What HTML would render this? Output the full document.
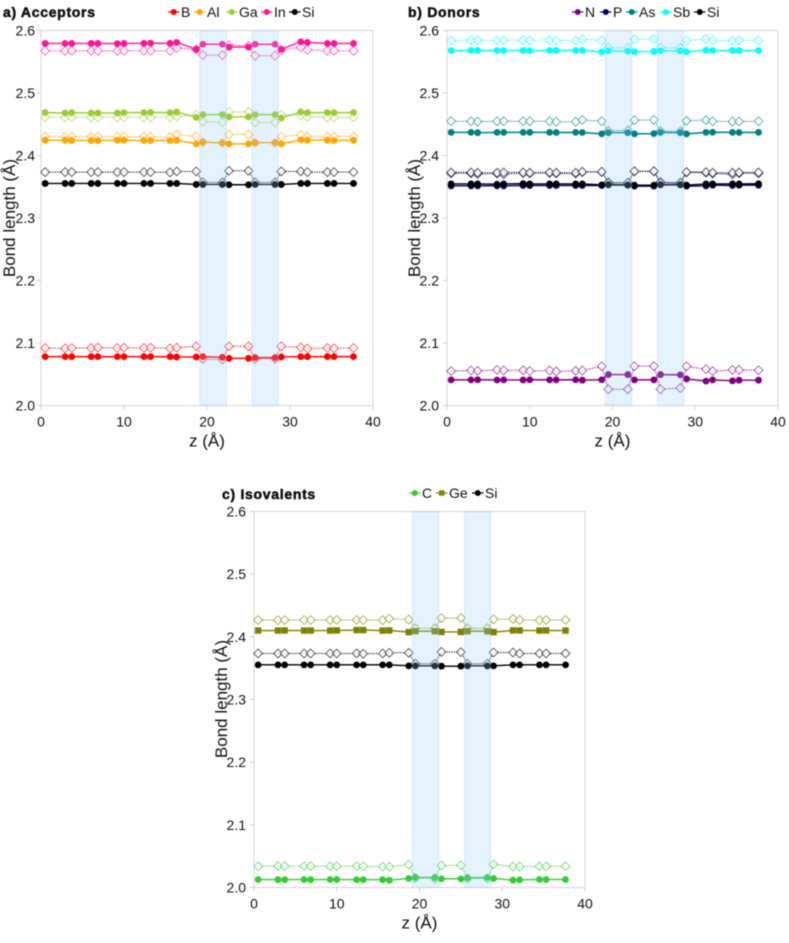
<!DOCTYPE html>
<html>
<head>
<meta charset="utf-8">
<title>Bond length profiles</title>
<style>
html,body{margin:0;padding:0;background:#fff;width:789px;height:943px;overflow:hidden}
svg{display:block;filter:blur(0.45px)}
text{font-family:"Liberation Sans",sans-serif;fill:#111}
</style>
</head>
<body>
<svg id="chart" width="789" height="943" viewBox="0 0 789 943" xmlns="http://www.w3.org/2000/svg"></svg>
<script>
const zValues = [0.5,2.9,3.7,6.05,6.85,9.2,10.0,12.4,13.2,15.55,16.35,18.7,19.5,21.85,22.65,25.0,25.8,28.2,28.95,31.3,32.1,34.5,35.3,37.65];
const xTickLabels = [0,10,20,30,40];
const yTickLabels = [2.0,2.1,2.2,2.3,2.4,2.5,2.6];
const bandRanges = [[19.13,22.34],[25.43,28.6]];

const siSolid = [2.3553,2.3553,2.3553,2.3553,2.3553,2.3553,2.3553,2.3553,2.3553,2.3553,2.3553,2.3537,2.3537,2.3537,2.3532,2.3532,2.3537,2.3537,2.3537,2.3553,2.3553,2.3553,2.3553,2.3553];
const siOpen = [2.3734,2.3734,2.3734,2.3734,2.3734,2.3734,2.3734,2.3734,2.3734,2.3730,2.3745,2.3745,2.3570,2.3570,2.3755,2.3755,2.3570,2.3570,2.3745,2.3745,2.3734,2.3734,2.3734,2.3734];

const bSolid = [2.0782,2.0782,2.0782,2.0782,2.0782,2.0782,2.0782,2.0782,2.0782,2.0782,2.0777,2.0777,2.0782,2.0771,2.0755,2.0755,2.0766,2.0766,2.0777,2.0782,2.0782,2.0782,2.0782,2.0782];
const bOpen = [2.0920,2.0915,2.0920,2.0920,2.0925,2.0920,2.0925,2.0920,2.0925,2.0915,2.0925,2.0947,2.0745,2.0734,2.0947,2.0947,2.0745,2.0750,2.0947,2.0930,2.0910,2.0920,2.0915,2.0920];
const alSolid = [2.4245,2.4245,2.4240,2.4240,2.4240,2.4245,2.4245,2.4240,2.4240,2.4240,2.4245,2.4186,2.4213,2.4202,2.4186,2.4186,2.4207,2.4207,2.4186,2.4250,2.4245,2.4245,2.4240,2.4245];
const alOpen = [2.4303,2.4303,2.4303,2.4303,2.4303,2.4303,2.4303,2.4303,2.4303,2.4295,2.4335,2.4308,2.4213,2.4202,2.4335,2.4335,2.4202,2.4202,2.4303,2.4330,2.4310,2.4303,2.4303,2.4303];
const gaSolid = [2.4686,2.4680,2.4686,2.4680,2.4680,2.4680,2.4686,2.4686,2.4690,2.4686,2.4697,2.4610,2.4654,2.4654,2.4617,2.4617,2.4654,2.4654,2.4600,2.4697,2.4686,2.4686,2.4686,2.4686];
const gaOpen = [2.4610,2.4610,2.4610,2.4610,2.4610,2.4610,2.4610,2.4610,2.4610,2.4610,2.4625,2.4650,2.4540,2.4530,2.4697,2.4697,2.4527,2.4530,2.4655,2.4640,2.4617,2.4610,2.4610,2.4610];
const inSolid = [2.5793,2.5793,2.5793,2.5793,2.5793,2.5790,2.5793,2.5795,2.5798,2.5795,2.5810,2.5700,2.5780,2.5780,2.5735,2.5735,2.5780,2.5780,2.5700,2.5820,2.5810,2.5793,2.5793,2.5793];
const inOpen = [2.5676,2.5676,2.5676,2.5676,2.5676,2.5672,2.5676,2.5676,2.5676,2.5676,2.5720,2.5697,2.5606,2.5606,2.5766,2.5755,2.5596,2.5596,2.5686,2.5730,2.5690,2.5676,2.5676,2.5676];

const nSolid = [2.0410,2.0410,2.0412,2.0408,2.0410,2.0408,2.0412,2.0410,2.0410,2.0412,2.0405,2.0412,2.0495,2.0495,2.0410,2.0410,2.0495,2.0490,2.0425,2.0390,2.0410,2.0395,2.0405,2.0405];
const nOpen = [2.0550,2.0560,2.0555,2.0570,2.0560,2.0565,2.0550,2.0560,2.0545,2.0555,2.0560,2.0627,2.0260,2.0260,2.0630,2.0630,2.0260,2.0280,2.0627,2.0580,2.0550,2.0570,2.0570,2.0565];
const pSolid = [2.3515,2.3515,2.3515,2.3515,2.3515,2.3520,2.3520,2.3520,2.3520,2.3520,2.3520,2.3520,2.3530,2.3525,2.3510,2.3510,2.3530,2.3530,2.3510,2.3515,2.3525,2.3520,2.3525,2.3525];
const pOpen = [2.3715,2.3715,2.3705,2.3710,2.3700,2.3720,2.3715,2.3720,2.3715,2.3710,2.3735,2.3735,2.3570,2.3560,2.3745,2.3745,2.3575,2.3560,2.3730,2.3725,2.3710,2.3700,2.3715,2.3715];
const asSolid = [2.4370,2.4370,2.4365,2.4370,2.4370,2.4370,2.4370,2.4370,2.4368,2.4370,2.4368,2.4346,2.4365,2.4365,2.4346,2.4350,2.4370,2.4365,2.4346,2.4370,2.4372,2.4370,2.4368,2.4370];
const asOpen = [2.4548,2.4548,2.4542,2.4548,2.4548,2.4548,2.4548,2.4548,2.4540,2.4540,2.4570,2.4548,2.4394,2.4400,2.4565,2.4570,2.4390,2.4385,2.4555,2.4565,2.4548,2.4545,2.4545,2.4548];
const sbSolid = [2.5680,2.5682,2.5682,2.5680,2.5680,2.5682,2.5678,2.5682,2.5682,2.5682,2.5682,2.5660,2.5675,2.5670,2.5660,2.5665,2.5675,2.5675,2.5660,2.5685,2.5680,2.5682,2.5680,2.5680];
const sbOpen = [2.5840,2.5845,2.5845,2.5840,2.5842,2.5845,2.5842,2.5845,2.5842,2.5840,2.5860,2.5840,2.5723,2.5723,2.5860,2.5865,2.5723,2.5723,2.5840,2.5865,2.5840,2.5840,2.5842,2.5842];
const siSolidB = [2.3545,2.3545,2.3545,2.3540,2.3545,2.3550,2.3545,2.3545,2.3545,2.3545,2.3545,2.3530,2.3535,2.3530,2.3525,2.3525,2.3535,2.3535,2.3525,2.3545,2.3545,2.3545,2.3545,2.3548];
const siOpenB = [2.3730,2.3730,2.3725,2.3725,2.3730,2.3730,2.3725,2.3730,2.3725,2.3725,2.3740,2.3740,2.3565,2.3565,2.3750,2.3750,2.3565,2.3565,2.3735,2.3735,2.3725,2.3725,2.3730,2.3730];

const cSolid = [2.0128,2.0125,2.0125,2.0128,2.0125,2.0128,2.0128,2.0125,2.0125,2.0125,2.0117,2.0144,2.0160,2.0160,2.0138,2.0138,2.0155,2.0160,2.0144,2.0117,2.0122,2.0128,2.0128,2.0128];
const cOpen = [2.0340,2.0342,2.0340,2.0340,2.0340,2.0338,2.0340,2.0340,2.0338,2.0332,2.0332,2.0367,2.0154,2.0144,2.0350,2.0355,2.0144,2.0144,2.0370,2.0335,2.0335,2.0338,2.0340,2.0340];
const geSolid = [2.4100,2.4100,2.4102,2.4100,2.4100,2.4100,2.4102,2.4108,2.4108,2.4100,2.4102,2.4075,2.4090,2.4090,2.4078,2.4078,2.4090,2.4090,2.4075,2.4102,2.4102,2.4100,2.4102,2.4100];
const geOpen = [2.4270,2.4265,2.4268,2.4268,2.4268,2.4268,2.4270,2.4270,2.4268,2.4265,2.4290,2.4275,2.4135,2.4135,2.4300,2.4300,2.4135,2.4135,2.4280,2.4285,2.4270,2.4265,2.4268,2.4270];
const siSolidC = [2.3553,2.3553,2.3553,2.3553,2.3553,2.3553,2.3553,2.3553,2.3553,2.3553,2.3553,2.3537,2.3537,2.3537,2.3532,2.3532,2.3537,2.3537,2.3537,2.3553,2.3553,2.3553,2.3553,2.3553];
const siOpenC = [2.3735,2.3735,2.3735,2.3735,2.3735,2.3735,2.3735,2.3735,2.3730,2.3735,2.3745,2.3745,2.3570,2.3570,2.3760,2.3755,2.3570,2.3570,2.3750,2.3750,2.3735,2.3735,2.3735,2.3735];

const panelA = [
  {name:'b',label:'B',color:'#ff0000',solid:bSolid,open:bOpen,lx:168},
  {name:'al',label:'Al',color:'#ffa500',solid:alSolid,open:alOpen,lx:194},
  {name:'ga',label:'Ga',color:'#9acd32',solid:gaSolid,open:gaOpen,lx:226},
  {name:'in',label:'In',color:'#ff1493',solid:inSolid,open:inOpen,lx:261},
  {name:'si',label:'Si',color:'#000000',solid:siSolid,open:siOpen,lx:289}
];
const panelB = [
  {name:'n',label:'N',color:'#800080',solid:nSolid,open:nOpen,lx:572},
  {name:'p',label:'P',color:'#000080',solid:pSolid,open:pOpen,lx:600},
  {name:'as',label:'As',color:'#008080',solid:asSolid,open:asOpen,lx:626},
  {name:'sb',label:'Sb',color:'#00ffff',solid:sbSolid,open:sbOpen,lx:660},
  {name:'si',label:'Si',color:'#000000',solid:siSolidB,open:siOpenB,lx:694}
];
const panelC = [
  {name:'c',label:'C',color:'#32cd32',solid:cSolid,open:cOpen,lx:409},
  {name:'ge',label:'Ge',color:'#808000',solid:geSolid,open:geOpen,lx:436,square:true},
  {name:'si',label:'Si',color:'#000000',solid:siSolidC,open:siOpenC,lx:472}
];

const NS = 'http://www.w3.org/2000/svg';
const root = document.getElementById('chart');

function make(parent, tag, attrs, text) {
  const el = document.createElementNS(NS, tag);
  for (const k in attrs) el.setAttribute(k, attrs[k]);
  if (text !== undefined) el.textContent = text;
  parent.appendChild(el);
  return el;
}

function drawMarks(g, s, xScale, yScale) {
  const solidPts = s.solid.map((v, i) => xScale(zValues[i]).toFixed(2) + ',' + yScale(v).toFixed(2)).join(' ');
  const openPts = s.open.map((v, i) => xScale(zValues[i]).toFixed(2) + ',' + yScale(v).toFixed(2)).join(' ');

  const openLine = make(g, 'polyline', {points:openPts, fill:'none', stroke:s.color, 'stroke-width':1, 'stroke-dasharray':'1.2 1.2'});
  
  

  s.open.forEach((v, i) => {
    const x = xScale(zValues[i]), y = yScale(v), r = 4.4;
    const d = make(g, 'polygon', {
      points: x + ',' + (y - r) + ' ' + (x + r) + ',' + y + ' ' + x + ',' + (y + r) + ' ' + (x - r) + ',' + y,
      fill:'rgba(255,255,255,0.8)', stroke:s.color, 'stroke-width':0.8, 'stroke-opacity':0.75
    });
    
    
  });

  const solidLine = make(g, 'polyline', {points:solidPts, fill:'none', stroke:s.color, 'stroke-width':1.4});
  
  

  s.solid.forEach((v, i) => {
    const x = xScale(zValues[i]), y = yScale(v);
    let m;
    if (s.square) {
      m = make(g, 'rect', {x:x - 3.2, y:y - 3.2, width:6.4, height:6.4, fill:s.color});
    } else {
      m = make(g, 'circle', {cx:x, cy:y, r:3.4, fill:s.color});
    }
    
    
  });
}

function drawPanel(cfg) {
  const g = make(root, 'g', {});
  
  

  const xScale = z => cfg.left + (z / 40) * (cfg.right - cfg.left);
  const yScale = v => cfg.bottom - ((v - 2.0) / 0.6) * (cfg.bottom - cfg.top);

  const frame = make(g, 'rect', {x:cfg.left, y:cfg.top, width:cfg.right - cfg.left, height:cfg.bottom - cfg.top, fill:'#fff', stroke:'#d6d6d6', 'stroke-width':1});
  
  

  yTickLabels.forEach(t => {
    const y = yScale(t);
    const tick = make(g, 'line', {x1:cfg.left - 4, x2:cfg.left, y1:y, y2:y, stroke:'#cfcfcf', 'stroke-width':1});
    
    
    const lab = make(g, 'text', {x:cfg.left - cfg.labelGap, y:y + 5, 'text-anchor':'end', 'font-size':14}, t.toFixed(1));
    
    
  });

  xTickLabels.forEach(t => {
    const x = xScale(t);
    const tick = make(g, 'line', {x1:x, x2:x, y1:cfg.bottom, y2:cfg.bottom + 4, stroke:'#cfcfcf', 'stroke-width':1});
    
    
    const lab = make(g, 'text', {x:x, y:cfg.bottom + 21, 'text-anchor':'middle', 'font-size':14}, String(t));
    
    
  });

  cfg.series.forEach(s => drawMarks(g, s, xScale, yScale));

  bandRanges.forEach(b => {
    const band = make(g, 'rect', {
      x:xScale(b[0]), y:cfg.top, width:xScale(b[1]) - xScale(b[0]), height:cfg.bottom - cfg.top,
      fill:'rgb(144,202,249)', 'fill-opacity':0.25, stroke:'rgb(150,190,240)', 'stroke-opacity':0.25, 'stroke-width':1
    });
    
    
  });

  const xTitle = make(g, 'text', {x:(cfg.left + cfg.right) / 2, y:cfg.bottom + 41, 'text-anchor':'middle', 'font-size':17}, 'z (Å)');
  
  

  const yTitle = make(g, 'text', {
    x:cfg.yTitleX, y:cfg.yTitleY, 'text-anchor':'middle', 'font-size':17,
    transform:'rotate(-90 ' + cfg.yTitleX + ' ' + cfg.yTitleY + ')'
  }, 'Bond length (Å)');
  
  

  const title = make(g, 'text', {
    x:cfg.titleX, y:cfg.titleY, 'font-size':14, 'font-weight':'bold',
    stroke:'#000', 'stroke-width':0.45, 'letter-spacing':0.7
  }, cfg.title);
  
  

  cfg.series.forEach(s => {
    const y = cfg.legendY;
    const entry = make(g, 'g', {});
    
    
    make(entry, 'line', {x1:s.lx, x2:s.lx + 11.5, y1:y, y2:y, stroke:s.color, 'stroke-width':1.2});
    if (s.square) {
      make(entry, 'rect', {x:s.lx + 3, y:y - 2.7, width:5.4, height:5.4, fill:s.color});
    } else {
      make(entry, 'circle', {cx:s.lx + 5.75, cy:y, r:3, fill:s.color});
    }
    make(entry, 'text', {x:s.lx + 13, y:y + 5, 'font-size':14}, s.label);
  });
}

drawPanel({id:'panel-acceptors', title:'a) Acceptors', series:panelA, left:41, right:373, top:30.5, bottom:405.5,
  labelGap:6, yTitleX:15, yTitleY:218, titleX:3, titleY:17, legendY:12});
drawPanel({id:'panel-donors', title:'b) Donors', series:panelB, left:447, right:778, top:30.5, bottom:405.5,
  labelGap:8, yTitleX:420, yTitleY:218, titleX:408, titleY:17, legendY:12});
drawPanel({id:'panel-isovalents', title:'c) Isovalents', series:panelC, left:254, right:585, top:511.5, bottom:887.5,
  labelGap:8, yTitleX:227, yTitleY:699, titleX:222, titleY:499, legendY:493});
</script>
</body>
</html>
